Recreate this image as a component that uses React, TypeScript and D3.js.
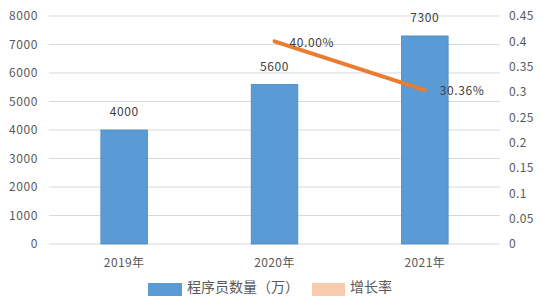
import React from "react";
import * as d3 from "d3";

const years = ["2019年", "2020年", "2021年"];
const programmers = [4000, 5600, 7300];
const growthYears = ["2020年", "2021年"];
const growthRates = [0.4, 0.3036];
const growthLabels = ["40.00%", "30.36%"];
const leftTicks = [0, 1000, 2000, 3000, 4000, 5000, 6000, 7000, 8000];
const rightTicks = [0, 0.05, 0.1, 0.15, 0.2, 0.25, 0.3, 0.35, 0.4, 0.45];
const legendNames = ["程序员数量（万）", "增长率"];

const W = 542;
const H = 296;
const plotLeft = 49;
const plotRight = 500;
const plotTop = 16;
const plotBottom = 244;
const font = "'Noto Sans CJK SC', 'DejaVu Sans', sans-serif";
const textColor = "#595959";
const blue = "#5B9BD5";
const orange = "#E97C30";

export default function App() {
  const x = d3.scaleBand<string>().domain(years).range([plotLeft, plotRight]).paddingInner(0.69).paddingOuter(0.345);
  const yL = d3.scaleLinear().domain([0, 8000]).range([plotBottom, plotTop]);
  const yR = d3.scaleLinear().domain([0, 0.45]).range([plotBottom, plotTop]);
  const cx = (c: string) => (x(c) ?? 0) + x.bandwidth() / 2;

  const linePts: [number, number][] = growthYears.map((c, i) => [cx(c), yR(growthRates[i])]);
  const line = d3.line()(linePts) ?? "";

  return (
    <svg width={W} height={H} style={{ position: "absolute", left: 0, top: 0, background: "#fff" }}>
      {leftTicks.map((t) => (
        <line key={"g" + t} x1={plotLeft} x2={plotRight} y1={yL(t)} y2={yL(t)} stroke="#D9D9D9" strokeWidth={1} />
      ))}
      {leftTicks.map((t) => (
        <text key={"l" + t} x={38} y={yL(t)} dy="0.35em" textAnchor="end" fontSize={12} fill={textColor} fontFamily={font} letterSpacing={0.6}>
          {t}
        </text>
      ))}
      {rightTicks.map((t) => (
        <text key={"r" + t} x={509} y={yR(t)} dy="0.35em" textAnchor="start" fontSize={12} fill={textColor} fontFamily={font} letterSpacing={0.4}>
          {d3.format("~g")(t)}
        </text>
      ))}
      {years.map((c, i) => (
        <g key={c}>
          <rect x={x(c)} y={yL(programmers[i])} width={x.bandwidth()} height={plotBottom - yL(programmers[i])} fill={blue} stroke="#4F88BC" strokeWidth={0.8} />
          <text x={cx(c)} y={yL(programmers[i]) - 18} dy="0.35em" textAnchor="middle" fontSize={12} fill="#404040" fontFamily={font} letterSpacing={0.6}>
            {programmers[i]}
          </text>
          <text x={cx(c)} y={263} dy="0.35em" textAnchor="middle" fontSize={12} fill={textColor} fontFamily={font} letterSpacing={0.4}>
            {c}
          </text>
        </g>
      ))}
      <path d={line} fill="none" stroke={orange} strokeWidth={4} strokeLinecap="round" />
      {growthYears.map((c, i) => (
        <text key={"gl" + c} x={cx(c) + 15} y={yR(growthRates[i]) + 1} dy="0.35em" textAnchor="start" fontSize={12} fill="#404040" fontFamily={font} letterSpacing={0.6}>
          {growthLabels[i]}
        </text>
      ))}
      <rect x={148} y={283} width={34} height={13} fill={blue} />
      <text x={187} y={287.5} dy="0.35em" fontSize={14} fill={textColor} fontFamily={font}>
        {legendNames[0]}
      </text>
      <rect x={312} y={283} width={33} height={13} fill="#F8CBAD" />
      <text x={350} y={287.5} dy="0.35em" fontSize={14} fill={textColor} fontFamily={font}>
        {legendNames[1]}
      </text>
    </svg>
  );
}
